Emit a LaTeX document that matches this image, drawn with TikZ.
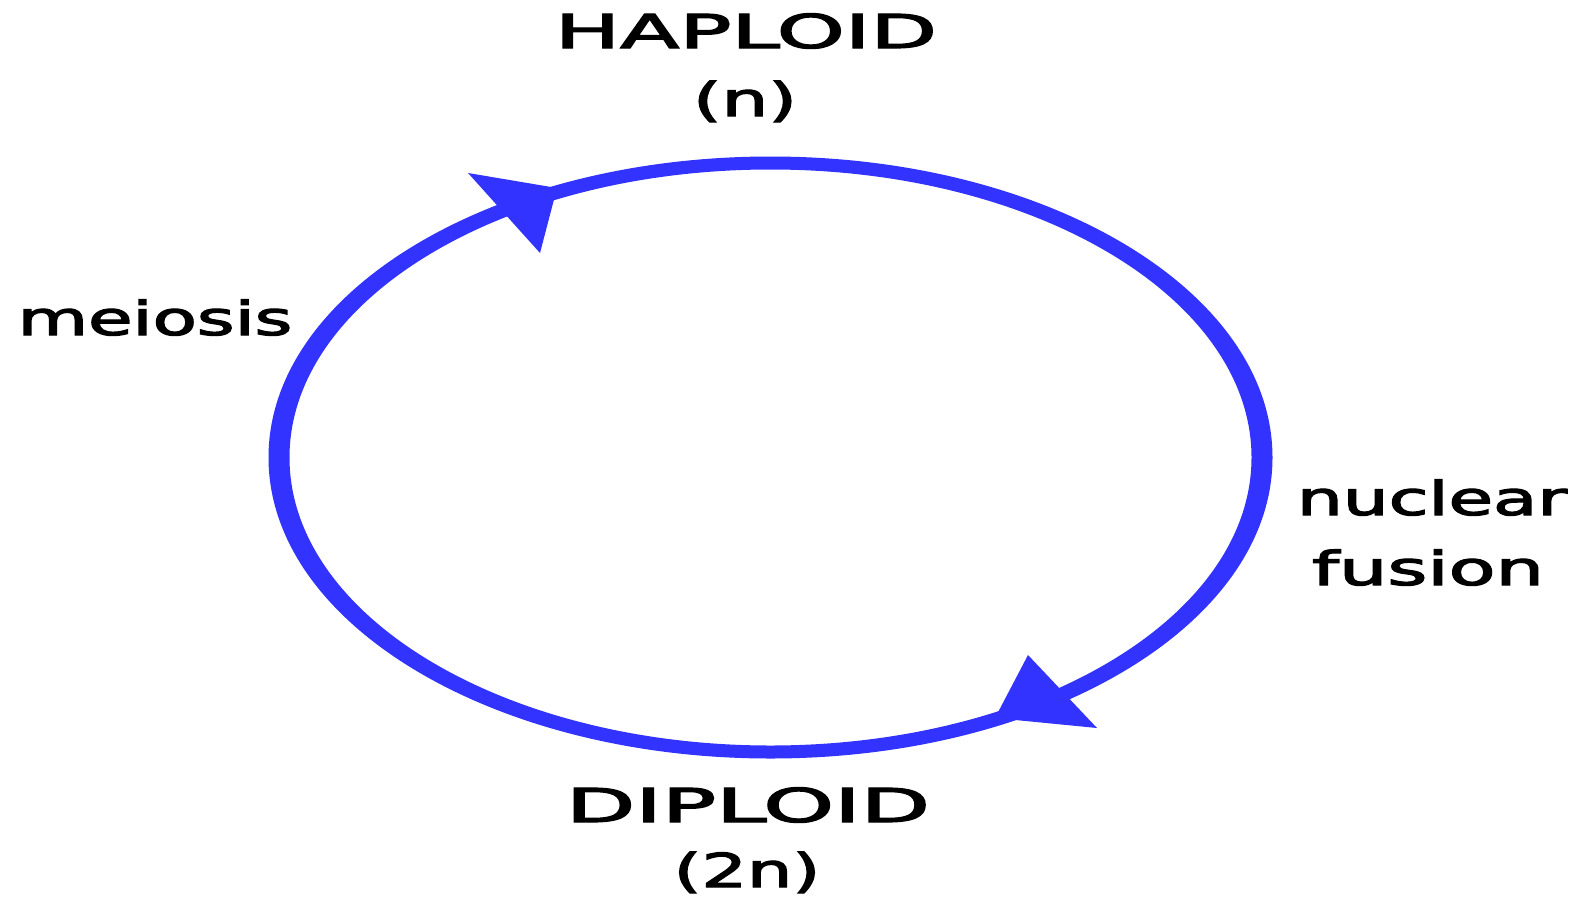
\documentclass[tikz,border=0pt]{standalone}
\usepackage{fontspec}
\setmainfont{DejaVu Sans}
\newfontfamily\lblfont{DejaVu Sans}[FakeBold=2.4]
\usepackage{graphicx}
\definecolor{cycleblue}{RGB}{51,51,255}
\newcommand\wide[2]{\resizebox{#1}{\height}{#2}}
\begin{document}
\begin{tikzpicture}[x=0.75pt,y=-0.75pt,
  lbl/.style={anchor=base, inner sep=0pt, text=black, font=\lblfont\fontsize{35}{40}\selectfont},
  headfill/.style={fill=cycleblue}]
\useasboundingbox (0,0) rectangle (1577,907);
% the cycle ring (horizontally stretched stroke)
\fill[cycleblue, even odd rule]
  (770.5,457.5) ellipse [x radius=502, y radius=301]
  (770.5,457.5) ellipse [x radius=481, y radius=288];
% arrowheads
\coordinate (a1) at (468,173);
\coordinate (a2) at (557,188);
\coordinate (a3) at (540,253);
\coordinate (b1) at (1028,655);
\coordinate (b2) at (995,718);
\coordinate (b3) at (1097,728);
\path[headfill] (a1) -- (a2) -- (a3) -- cycle;
\path[headfill] (b1) -- (b2) -- (b3) -- cycle;
% labels
\node[lbl] (haploid) at (746,48) {\wide{286.5pt}{HAPLOID}};
\node[lbl] (n) at (745,116) {\wide{78pt}{(n)}};
\node[lbl] (diploid) at (748,822) {\wide{273pt}{DIPLOID}};
\node[lbl] (twon) at (747,887) {\wide{110pt}{(2n)}};
\node[lbl] (meiosis) at (155,335) {\wide{206pt}{meiosis}};
\node[lbl] (nuclear) at (1432,515) {\wide{202.5pt}{nuclear}};
\node[lbl] (fusion) at (1428,585) {\wide{174pt}{fusion}};
\end{tikzpicture}
\end{document}
